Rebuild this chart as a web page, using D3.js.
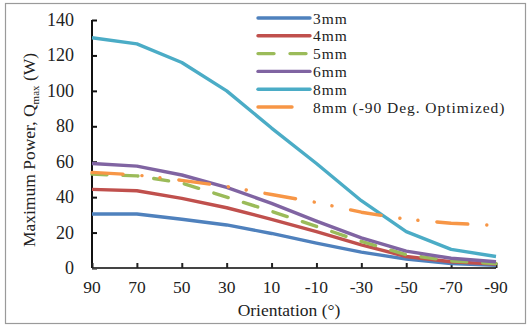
<!DOCTYPE html>
<html>
<head>
<meta charset="utf-8">
<script src="https://cdn.jsdelivr.net/npm/d3@7"></script>
<style>
  html, body { margin: 0; padding: 0; background: #fff; }
</style>
</head>
<body>
<svg id="chart" width="530" height="329"></svg>
<script>
// Orientation angles (degrees) along the x axis
const orientations = [90, 70, 50, 30, 10, -10, -30, -50, -70, -90];
const yTicks = [0, 20, 40, 60, 80, 100, 120, 140];

// Maximum power Q_max (W) for each heat pipe diameter
const q3mm  = [30.5, 30.5, 27.5, 24.3, 19.5, 14, 9, 5, 2.5, 1.5];
const q4mm  = [44.4, 43.6, 39.3, 34, 27.5, 20.5, 13, 6.5, 3.5, 2.2];
const q5mm  = [53, 52, 48, 40, 32, 23.5, 15, 7.5, 4, 2.5];
const q6mm  = [59, 57.5, 52.5, 45.5, 36.5, 26.5, 17, 9.5, 5.5, 3.5];
const q8mm  = [130, 126.5, 116, 100, 79, 59, 38, 20.5, 10.5, 6.5];
const q8opt = [54, 52.5, 49.5, 46, 41.5, 37, 31.5, 27.5, 25.3, 24];

const seriesNames = ["3mm", "4mm", "5mm", "6mm", "8mm", "8mm (-90 Deg. Optimized)"];
const seriesValues = [q3mm, q4mm, q5mm, q6mm, q8mm, q8opt];
const seriesColors = ["#4F81BD", "#C0504D", "#9BBB59", "#8064A2", "#4BACC6", "#F79646"];
const seriesDash = [null, null, "15 16", null, null, "31 19 0.1 18 0.1 19"];

const serif = "'Liberation Serif', 'Times New Roman', Times, 'DejaVu Serif', serif";

const svg = d3.select("#chart");

// outer frame
svg.append("rect")
  .attr("x", 5.5).attr("y", 3.5)
  .attr("width", 520).attr("height", 320)
  .attr("fill", "none").attr("stroke", "#9a9a9a").attr("stroke-width", 1.2);

const x = d3.scaleLinear().domain([90, -90]).range([92, 496]);
const y = d3.scaleLinear().domain([0, 140]).range([268, 20]);

// y axis, ticks pointing into the plot
const yAxis = svg.append("g")
  .attr("transform", `translate(${x(90)},0)`)
  .call(d3.axisRight(y).tickValues(yTicks).tickSize(5).tickFormat(""));
yAxis.select(".domain").attr("stroke", "#111").attr("stroke-width", 2)
  .attr("d", `M0,${y(140)}V${y(0)}`);
yAxis.selectAll(".tick line").attr("stroke", "#111").attr("stroke-width", 2);

svg.append("g").selectAll("text")
  .data(yTicks)
  .join("text")
  .attr("x", 74)
  .attr("y", d => y(d) + 6)
  .attr("text-anchor", "end")
  .attr("font-family", serif)
  .attr("font-size", 18)
  .attr("fill", "#222")
  .text(d => d);

// x axis, ticks pointing up into the plot
const xAxis = svg.append("g")
  .attr("transform", `translate(0,${y(0)})`)
  .call(d3.axisTop(x).tickValues(orientations).tickSize(5).tickFormat(""));
xAxis.select(".domain").attr("stroke", "#444").attr("stroke-width", 2)
  .attr("d", `M${x(90)},0H${x(-90)}`);
xAxis.selectAll(".tick line").attr("stroke", "#222").attr("stroke-width", 2);

svg.append("g").selectAll("text")
  .data(orientations)
  .join("text")
  .attr("x", d => x(d))
  .attr("y", 293)
  .attr("text-anchor", "middle")
  .attr("font-family", serif)
  .attr("font-size", 17.5)
  .attr("fill", "#222")
  .text(d => d);

// axis titles
svg.append("text")
  .attr("x", 289).attr("y", 316)
  .attr("text-anchor", "middle")
  .attr("font-family", serif)
  .attr("font-size", 17.5)
  .attr("fill", "#222")
  .text("Orientation (°)");

const yTitle = svg.append("text")
  .attr("transform", "translate(35,150) rotate(-90)")
  .attr("text-anchor", "middle")
  .attr("font-family", serif)
  .attr("font-size", 17.5)
  .attr("fill", "#222");
yTitle.append("tspan").text("Maximum Power, Q");
yTitle.append("tspan").attr("font-size", 11).attr("dy", 4).text("max");
yTitle.append("tspan").attr("dy", -4).text(" (W)");

// series lines
const line = d3.line()
  .x((d, i) => x(orientations[i]))
  .y(d => y(d));

svg.append("g").selectAll("path")
  .data(seriesValues)
  .join("path")
  .attr("d", d => line(d))
  .attr("fill", "none")
  .attr("stroke", (d, i) => seriesColors[i])
  .attr("stroke-width", 3.4)
  .attr("stroke-linejoin", "round")
  .attr("stroke-linecap", (d, i) => seriesDash[i] ? "round" : "butt")
  .attr("stroke-dasharray", (d, i) => seriesDash[i]);

// legend
const legend = svg.append("g");
const legRows = legend.selectAll("g")
  .data(seriesNames)
  .join("g")
  .attr("transform", (d, i) => `translate(0,${18 + i * 17.8})`);

legRows.append("path")
  .attr("d", (d, i) => i === 5 ? "M258,0H292" : "M258,0H310")
  .attr("fill", "none")
  .attr("stroke", (d, i) => seriesColors[i])
  .attr("stroke-width", 3.4)
  .attr("stroke-linecap", "round")
  .attr("stroke-dasharray", (d, i) => i === 2 ? "16 16" : null);

legRows.append("text")
  .attr("x", 313)
  .attr("y", 5.5)
  .attr("font-family", serif)
  .attr("font-size", 15.5)
  .attr("letter-spacing", 0.95)
  .attr("fill", "#222")
  .text(d => d);
</script>
</body>
</html>
